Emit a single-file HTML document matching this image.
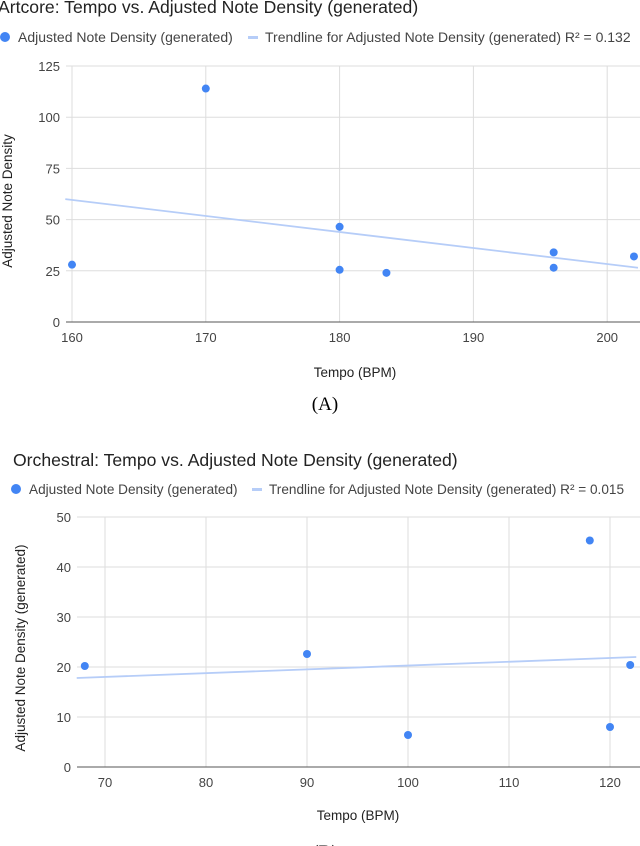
<!DOCTYPE html>
<html><head><meta charset="utf-8"><style>
html,body{margin:0;padding:0;background:#fff;width:640px;height:846px;overflow:hidden}
svg{display:block;font-family:"Liberation Sans",sans-serif}
</style></head><body>
<svg id="svg" width="640" height="846">
<g id="gA"></g>
<g id="gB"></g>
<text x="325" y="410" font-family="Liberation Serif" font-size="19" text-anchor="middle" fill="#000">(A)</text>
<text x="325" y="858" font-family="Liberation Serif" font-size="19" text-anchor="middle" fill="#000">(B)</text>
</svg>
<script>
const aX=[160,170,180,180,183.5,196,196,202];
const aY=[28,114,46.5,25.5,24,34,26.5,32];
const aTrend=[[159.5,60],[202.3,26.5]];
const aXTicks=[160,170,180,190,200];
const aYTicks=[0,25,50,75,100,125];
const bX=[68,90,100,118,120,122];
const bY=[20.2,22.6,6.4,45.3,8,20.4];
const bTrend=[[67.2,17.8],[122.6,22]];
const bXTicks=[70,80,90,100,110,120];
const bYTicks=[0,10,20,30,40,50];
const NS='http://www.w3.org/2000/svg';
function mk(p,t,a){const e=document.createElementNS(NS,t);for(const k in a)e.setAttribute(k,a[k]);p.appendChild(e);return e;}
function chart(g,o){
 const sx=v=>o.x0+(v-o.xmin)*o.kx, sy=v=>o.y0-(v-o.ymin)*o.ky;
 let t=mk(g,'text',{x:o.tx,y:o.ty,'font-size':17.6,fill:'#222'});t.textContent=o.title;
 
 let c=mk(g,'circle',{cx:o.lx,cy:o.ly-5,r:5,fill:'#4285f4'});
 
 t=mk(g,'text',{x:o.lx+13,y:o.ly,'font-size':o.lf,fill:'#444'});t.textContent='Adjusted Note Density (generated)';
 
 let r=mk(g,'rect',{x:o.lx2,y:o.ly-6,width:10,height:3,fill:'#b6cdf8'});
 
 t=mk(g,'text',{x:o.lx2+17,y:o.ly,'font-size':o.lf,fill:'#444'});t.textContent=o.trendLabel;
 
 o.yt.forEach(v=>{let l=mk(g,'line',{x1:o.pl,x2:640,y1:sy(v),y2:sy(v),stroke:'#ddd','stroke-width':1});
  
  let tt=mk(g,'text',{x:o.pl-6,y:sy(v)+5,'font-size':13,fill:'#444','text-anchor':'end'});tt.textContent=v;
  });
 o.xt.forEach(v=>{let l=mk(g,'line',{x1:sx(v),x2:sx(v),y1:sy(o.yt[o.yt.length-1]),y2:sy(0),stroke:'#ddd'});
  
  let tt=mk(g,'text',{x:sx(v),y:sy(0)+20,'font-size':13,fill:'#444','text-anchor':'middle'});tt.textContent=v;
  });
 let ax=mk(g,'line',{x1:o.pl,x2:640,y1:sy(0),y2:sy(0),stroke:'#555'});
 
 let tl=mk(g,'line',{x1:sx(o.tr[0][0]),y1:sy(o.tr[0][1]),x2:sx(o.tr[1][0]),y2:sy(o.tr[1][1]),stroke:'#b6cdf8','stroke-width':1.8});
 
 o.xs.forEach((v,i)=>{let p=mk(g,'circle',{cx:sx(v),cy:sy(o.ys[i]),r:4,fill:'#4285f4'});
  });
 t=mk(g,'text',{x:o.xtx,y:o.xty,'font-size':13.5,fill:'#222','text-anchor':'middle'});t.textContent='Tempo (BPM)';
 
 t=mk(g,'text',{x:0,y:0,'font-size':13.5,fill:'#222','text-anchor':'middle',transform:`translate(${o.ytx},${o.yty}) rotate(-90)`});t.textContent=o.ytitle;
 
}
chart(document.getElementById('gA'),{xmin:160,x0:72,kx:13.38,ymin:0,y0:322,ky:2.048,pl:66,lf:14,
 title:'Artcore: Tempo vs. Adjusted Note Density (generated)',tx:-2,ty:13,lx:5,ly:42,lx2:248,
 trendLabel:'Trendline for Adjusted Note Density (generated) R² = 0.132',
 xt:aXTicks,yt:aYTicks,xs:aX,ys:aY,tr:aTrend,xtx:355,xty:377,ytx:12,yty:201,ytitle:'Adjusted Note Density'});
chart(document.getElementById('gB'),{xmin:70,x0:105,kx:10.1,ymin:0,y0:767,ky:5.0,pl:77,lf:13.6,
 title:'Orchestral: Tempo vs. Adjusted Note Density (generated)',tx:13,ty:466,lx:16,ly:494,lx2:252,
 trendLabel:'Trendline for Adjusted Note Density (generated) R² = 0.015',
 xt:bXTicks,yt:bYTicks,xs:bX,ys:bY,tr:bTrend,xtx:358,xty:820,ytx:25,yty:648,ytitle:'Adjusted Note Density (generated)'});
</script>
</body></html>
